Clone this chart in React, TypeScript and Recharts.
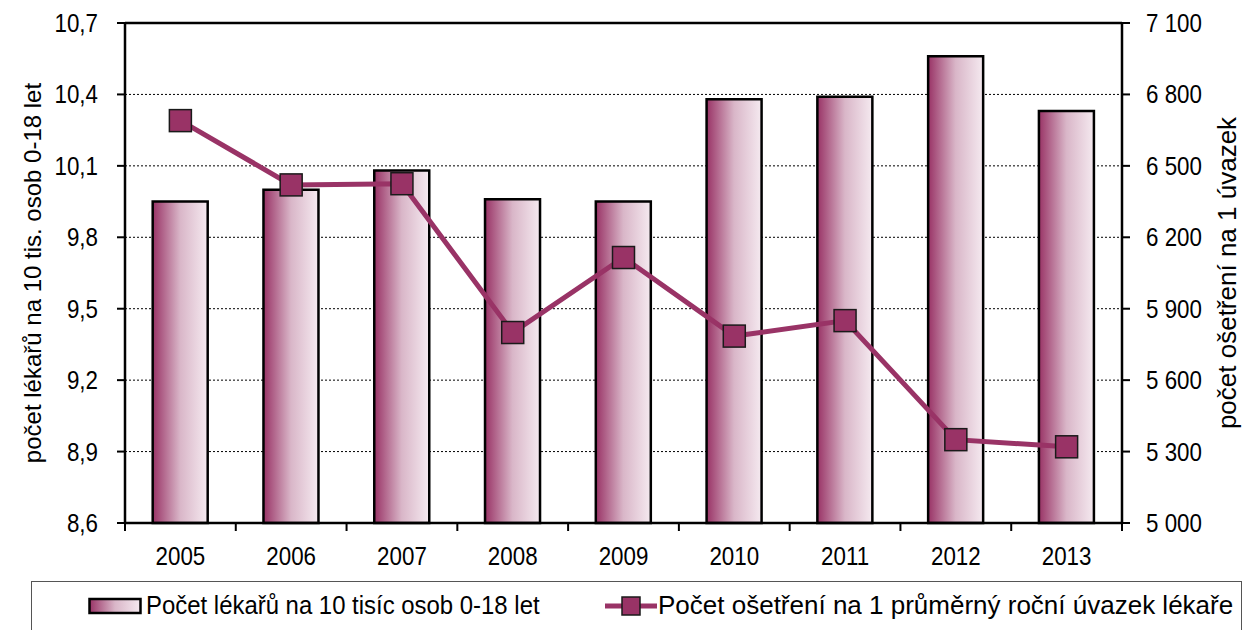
import React from "react";
import {
  ComposedChart,
  Bar,
  Line,
  XAxis,
  YAxis,
  CartesianGrid,
  ReferenceLine,
  Legend,
} from "recharts";

const years = ["2005", "2006", "2007", "2008", "2009", "2010", "2011", "2012", "2013"];
const doctorsPer10k = [9.95, 10.0, 10.08, 9.96, 9.95, 10.38, 10.39, 10.56, 10.33];
const treatmentsPerFte = [6690, 6420, 6425, 5800, 6115, 5785, 5850, 5350, 5320];

const leftTicks = [8.6, 8.9, 9.2, 9.5, 9.8, 10.1, 10.4, 10.7];
const rightTicks = [5000, 5300, 5600, 5900, 6200, 6500, 6800, 7100];

const BAR_NAME = "Počet lékařů na 10 tisíc osob 0-18 let";
const LINE_NAME = "Počet ošetření na 1 průměrný roční úvazek lékaře";
const LEFT_TITLE = "počet lékařů na 10 tis. osob 0-18 let";
const RIGHT_TITLE = "počet ošetření na 1 úvazek";

const PLUM = "#993366";
const FONT = "'Liberation Sans', Arial, sans-serif";
const SQUEEZE = 0.86; // reference uses a narrow face

const data = years.map((year, i) => ({
  year,
  doctors: doctorsPer10k[i],
  treatments: treatmentsPerFte[i],
}));

const fmtLeft = (v: number) => v.toFixed(1).replace(".", ",");
const fmtRight = (v: number) => String(v).replace(/\B(?=(\d{3})+(?!\d))/g, " ");

function NarrowText({ x, y, anchor, children }: any) {
  return (
    <g transform={`translate(${x},${y}) scale(${SQUEEZE},1)`}>
      <text x={0} y={0} textAnchor={anchor} fontSize={26} fontFamily={FONT} fill="#000">
        {children}
      </text>
    </g>
  );
}

function YearTick(props: any) {
  const { x, y, payload, index, visibleTicksCount, width } = props;
  const half = (width ?? 997) / visibleTicksCount / 2;
  return (
    <g>
      <line x1={x - half} x2={x - half} y1={y} y2={y + 8} stroke="#000" strokeWidth={2} />
      {index === visibleTicksCount - 1 && (
        <line x1={x + half} x2={x + half} y1={y} y2={y + 8} stroke="#000" strokeWidth={2} />
      )}
      <NarrowText x={x} y={y + 42} anchor="middle">
        {payload.value}
      </NarrowText>
    </g>
  );
}

function LeftTick(props: any) {
  const { x, y, payload } = props;
  return (
    <NarrowText x={x} y={y + 9} anchor="end">
      {fmtLeft(payload.value)}
    </NarrowText>
  );
}

function RightTick(props: any) {
  const { x, y, payload } = props;
  return (
    <NarrowText x={x} y={y + 9} anchor="start">
      {fmtRight(payload.value)}
    </NarrowText>
  );
}

function SquareDot(props: any) {
  const { cx, cy } = props;
  if (cx == null || cy == null) return null;
  return <rect x={cx - 11} y={cy - 11} width={22} height={22} fill={PLUM} stroke="#1a1a1a" strokeWidth={1.5} />;
}

function axisTitle(text: string, size: number, xPos: (vb: any) => number) {
  return (props: any) => {
    const vb = props.viewBox;
    const cx = xPos(vb);
    const cy = vb.y + vb.height / 2;
    return (
      <text
        x={cx}
        y={cy}
        transform={`rotate(-90, ${cx}, ${cy})`}
        textAnchor="middle"
        dominantBaseline="central"
        fontSize={size}
        fontFamily={FONT}
        fill="#000"
      >
        {text}
      </text>
    );
  };
}

function ChartLegend() {
  return (
    <div
      style={{
        position: "relative",
        width: 1211,
        height: 49,
        border: "1px solid #555",
        borderBottom: "none",
        boxSizing: "border-box",
        fontFamily: FONT,
        fontSize: 26,
        color: "#000",
      }}
    >
      <div style={{ position: "absolute", left: 56, top: 8, display: "flex", alignItems: "center", whiteSpace: "nowrap" }}>
        <svg width={54} height={18} style={{ marginRight: 4 }}>
          <rect x={1.5} y={2} width={51} height={14} fill="url(#barGrad)" stroke="#000" strokeWidth={2.5} />
        </svg>
        <span style={{ display: "inline-block", transform: "scaleX(0.92)", transformOrigin: "left center" }}>
          {BAR_NAME}
        </span>
      </div>
      <div style={{ position: "absolute", left: 573, top: 8, display: "flex", alignItems: "center", whiteSpace: "nowrap" }}>
        <svg width={52} height={24} style={{ marginRight: 1 }}>
          <line x1={0} x2={52} y1={12} y2={12} stroke={PLUM} strokeWidth={5} />
          <rect x={17} y={3} width={18} height={18} fill={PLUM} stroke="#1a1a1a" strokeWidth={1.5} />
        </svg>
        <span>{LINE_NAME}</span>
      </div>
    </div>
  );
}

export default function App() {
  return (
    <div style={{ position: "absolute", left: 0, top: 0, width: 1248, height: 630, background: "#fff" }}>
      <svg width={0} height={0} style={{ position: "absolute" }}>
        <defs>
          <linearGradient id="barGrad" x1="0" y1="0" x2="1" y2="0">
            <stop offset="0%" stopColor={PLUM} />
            <stop offset="50%" stopColor="#d9b6c8" />
            <stop offset="100%" stopColor="#f5eaf0" />
          </linearGradient>
        </defs>
      </svg>
      <ComposedChart
        width={1248}
        height={630}
        data={data}
        margin={{ top: 23, right: 0, bottom: 57, left: 0 }}
        barCategoryGap="25%"
      >
        <CartesianGrid yAxisId="left" vertical={false} stroke="#000" strokeWidth={1} strokeDasharray="2 2" />
        <XAxis
          dataKey="year"
          height={50}
          axisLine={{ stroke: "#000", strokeWidth: 2.5 }}
          tickLine={false}
          tickSize={0}
          tickMargin={0}
          tick={<YearTick />}
          interval={0}
        />
        <YAxis
          yAxisId="left"
          width={125}
          domain={[8.6, 10.7]}
          ticks={leftTicks}
          axisLine={{ stroke: "#000", strokeWidth: 2.5 }}
          tickLine={{ stroke: "#000", strokeWidth: 2 }}
          tickSize={8}
          tickMargin={19}
          tick={<LeftTick />}
          label={{ content: axisTitle(LEFT_TITLE, 24, (vb) => vb.x + 32) }}
        />
        <YAxis
          yAxisId="right"
          orientation="right"
          width={126}
          domain={[5000, 7100]}
          ticks={rightTicks}
          axisLine={{ stroke: "#000", strokeWidth: 2.5 }}
          tickLine={{ stroke: "#000", strokeWidth: 2 }}
          tickSize={8}
          tickMargin={16}
          tick={<RightTick />}
          label={{ content: axisTitle(RIGHT_TITLE, 26, (vb) => vb.x + 105) }}
        />
        <ReferenceLine yAxisId="left" y={10.7} stroke="#000" strokeWidth={2.5} />
        <Bar
          yAxisId="left"
          dataKey="doctors"
          name={BAR_NAME}
          fill="url(#barGrad)"
          stroke="#000"
          strokeWidth={2.5}
          isAnimationActive={false}
        />
        <Line
          yAxisId="right"
          dataKey="treatments"
          name={LINE_NAME}
          stroke={PLUM}
          strokeWidth={5}
          dot={<SquareDot />}
          activeDot={false}
          isAnimationActive={false}
        />
        <Legend
          layout="horizontal"
          verticalAlign="middle"
          align="center"
          wrapperStyle={{ top: 581, left: 31, width: 1211 }}
          content={() => <ChartLegend />}
        />
      </ComposedChart>
    </div>
  );
}
